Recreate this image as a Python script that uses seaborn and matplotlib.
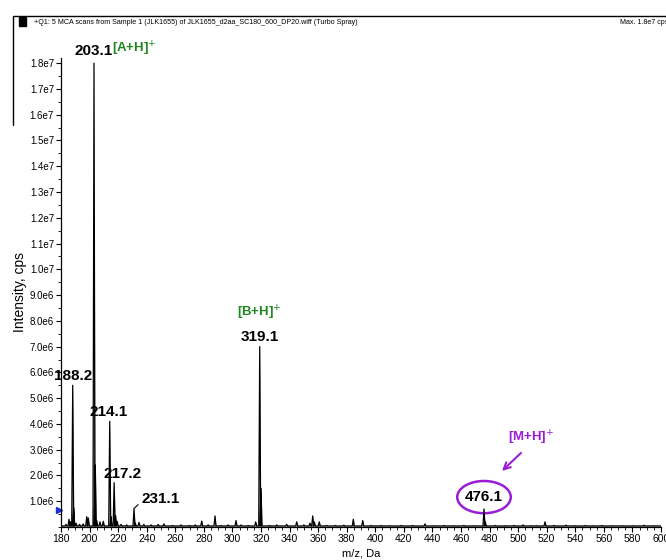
import numpy as np
import pandas as pd
import seaborn as sns
import matplotlib
import matplotlib.pyplot as plt
from matplotlib.patches import Ellipse, Rectangle
from matplotlib.lines import Line2D
from matplotlib.ticker import MultipleLocator, FixedLocator, FuncFormatter

sns.set_theme(style="ticks")
plt.rcParams["font.family"] = ["Liberation Sans", "DejaVu Sans"]
plt.rcParams["text.color"] = "black"
plt.rcParams["axes.labelcolor"] = "black"
plt.rcParams["xtick.color"] = "black"
plt.rcParams["ytick.color"] = "black"

# centroid peaks (m/z, intensity in cps)
peak_mz = [183.5, 185.6, 186.6, 188.2, 188.9, 190.5, 193.0, 195.5, 198.0, 199.1,
           203.1, 204.0, 205.0, 207.3, 209.6, 214.1, 215.0, 217.2, 218.2, 219.3,
           222.0, 226.0, 231.1, 232.0, 234.6, 238.0, 243.0, 248.0, 252.0, 258.0,
           264.0, 270.0, 274.0, 278.5, 283.0, 287.8, 292.0, 297.0, 302.5, 306.0,
           311.0, 316.3, 319.1, 320.0, 326.0, 331.0, 338.0, 345.0, 350.0, 354.3,
           356.2, 357.3, 360.8, 366.0, 372.0, 378.0, 384.6, 391.2, 397.0, 404.0,
           410.0, 418.0, 426.0, 434.8, 441.0, 448.0, 455.0, 462.0, 469.0, 476.1,
           477.0, 484.0, 491.0, 497.0, 503.4, 509.0, 513.0, 518.8, 525.0, 533.5,
           540.0, 547.0, 552.0, 558.5, 566.0, 573.0, 580.0, 588.0, 595.0]
peak_int = [0.10e6, 0.30e6, 0.20e6, 5.5e6, 0.75e6, 0.15e6, 0.10e6, 0.12e6, 0.40e6, 0.35e6,
            1.80e7, 2.4e6, 0.25e6, 0.20e6, 0.22e6, 4.1e6, 0.40e6, 1.72e6, 0.45e6, 0.22e6,
            0.10e6, 0.08e6, 0.70e6, 0.15e6, 0.18e6, 0.10e6, 0.08e6, 0.10e6, 0.12e6, 0.06e6,
            0.08e6, 0.06e6, 0.08e6, 0.23e6, 0.08e6, 0.43e6, 0.06e6, 0.08e6, 0.25e6, 0.08e6,
            0.06e6, 0.20e6, 7.0e6, 1.50e6, 0.06e6, 0.08e6, 0.10e6, 0.20e6, 0.08e6, 0.15e6,
            0.43e6, 0.20e6, 0.20e6, 0.06e6, 0.06e6, 0.07e6, 0.30e6, 0.25e6, 0.06e6, 0.06e6,
            0.05e6, 0.06e6, 0.06e6, 0.12e6, 0.05e6, 0.06e6, 0.05e6, 0.06e6, 0.05e6, 0.70e6,
            0.20e6, 0.06e6, 0.05e6, 0.06e6, 0.08e6, 0.05e6, 0.05e6, 0.20e6, 0.06e6, 0.07e6,
            0.05e6, 0.06e6, 0.05e6, 0.06e6, 0.05e6, 0.05e6, 0.05e6, 0.07e6, 0.05e6]
noise_floor = 0.04e6

ytick_vals = [1e6, 2e6, 3e6, 4e6, 5e6, 6e6, 7e6, 8e6, 9e6, 1.0e7, 1.1e7, 1.2e7,
              1.3e7, 1.4e7, 1.5e7, 1.6e7, 1.7e7, 1.8e7]
xtick_vals = list(range(180, 601, 20))

title = "+Q1: 5 MCA scans from Sample 1 (JLK1655) of JLK1655_d2aa_SC180_600_DP20.wiff (Turbo Spray)"
purple = "#9a1cd6"
green = "#1f861f"

# build a simple profile trace from the stick list
rows = [(180.0, noise_floor)]
for m, h in zip(peak_mz, peak_int):
    rows += [(m - 0.7, noise_floor), (m, h), (m + 0.7, noise_floor)]
rows.append((600.0, noise_floor))
df = pd.DataFrame(rows, columns=["mz", "intensity"])

fig = plt.figure(figsize=(6.66, 5.60), dpi=100)
ax = fig.add_axes([61 / 666, 33 / 560, 600 / 666, 469 / 560])
ax.fill_between(df.mz, 0, df.intensity, color="#888888", lw=0)
sns.lineplot(data=df, x="mz", y="intensity", color="black", lw=0.9,
             estimator=None, sort=False, ax=ax)


def sci(v, pos):
    if v <= 0:
        return ""
    e = int(np.floor(np.log10(v)))
    return "%.1fe%d" % (v / 10 ** e, e)


ax.set_xlim(180, 600)
ax.set_ylim(0, 1.82e7)
ax.xaxis.set_major_locator(FixedLocator(xtick_vals))
ax.xaxis.set_minor_locator(MultipleLocator(5))
ax.yaxis.set_major_locator(FixedLocator(ytick_vals))
ax.yaxis.set_minor_locator(MultipleLocator(0.5e6))
ax.yaxis.set_major_formatter(FuncFormatter(sci))
ax.tick_params(axis="x", which="major", length=3.5, width=0.8, labelsize=7.5, pad=1.5)
ax.tick_params(axis="y", which="major", length=3.5, width=0.8, labelsize=7, pad=1.5)
ax.tick_params(axis="both", which="minor", length=2, width=0.6)
for s in ["top", "right"]:
    ax.spines[s].set_visible(False)
for s in ["left", "bottom"]:
    ax.spines[s].set_linewidth(0.9)
    ax.spines[s].set_color("black")
ax.set_xlabel("m/z, Da", fontsize=8, labelpad=3)
ax.set_ylabel("Intensity, cps", fontsize=10)
ax.yaxis.set_label_coords(-0.056, 0.5)

# peak labels
lab = dict(fontsize=11, fontweight="bold", ha="center", va="bottom")
ax.text(188.2, 5.6e6, "188.2", **lab)
ax.text(203.1, 1.82e7, "203.1", **lab)
ax.text(213.6, 4.2e6, "214.1", **lab)
ax.text(319.1, 7.1e6, "319.1", **lab)
ax.text(209.5, 1.78e6, "217.2", fontsize=11, fontweight="bold", ha="left", va="bottom")
ax.annotate("231.1", xy=(231.1, 0.72e6), xytext=(236.3, 0.82e6), fontsize=11, fontweight="bold",
            ha="left", va="bottom",
            arrowprops=dict(arrowstyle="-", lw=0.8, color="black", shrinkA=0, shrinkB=0,
                            relpos=(0, 0.3)))
ax.text(476.1, 1.16e6, "476.1", fontsize=11, fontweight="bold", ha="center", va="center")
ax.add_patch(Ellipse((476.1, 1.16e6), 37.5, 1.25e6, fill=False, ec=purple, lw=1.8))
ax.text(215.7, 1.82e7, r"[A+H]$^{+}$", fontsize=9.5, fontweight="bold", color=green,
        ha="left", va="bottom")
ax.text(319.1, 7.95e6, r"[B+H]$^{+}$", fontsize=9.5, fontweight="bold", color=green,
        ha="center", va="bottom")
ax.text(509, 3.1e6, r"[M+H]$^{+}$", fontsize=9.5, fontweight="bold", color=purple,
        ha="center", va="bottom")
ax.annotate("", xy=(487.3, 2.1e6), xytext=(503.4, 2.95e6),
            arrowprops=dict(arrowstyle="->", lw=1.5, color=purple, mutation_scale=12))

# little scan marker on the axis
ax.plot([-0.004], [0.65e6], marker=">", color="#1a2fd8", ms=4,
        transform=matplotlib.transforms.blended_transform_factory(ax.transAxes, ax.transData),
        clip_on=False)

# header frame
fig.add_artist(Line2D([13 / 666, 1.0], [1 - 16 / 560, 1 - 16 / 560], color="black", lw=1))
fig.add_artist(Line2D([13 / 666, 13 / 666], [1 - 16 / 560, 1 - 125 / 560], color="black", lw=1))
fig.add_artist(Rectangle((19 / 666, 1 - 26 / 560), 7 / 666, 9 / 560, color="black",
                         transform=fig.transFigure))
fig.text(34 / 666, 1 - 23 / 560, title, fontsize=5.1, va="center", ha="left")
fig.text(620 / 666, 1 - 23 / 560, "Max. 1.8e7 cps.", fontsize=5.1, va="center", ha="left")

fig.savefig("out.png", dpi=100)
